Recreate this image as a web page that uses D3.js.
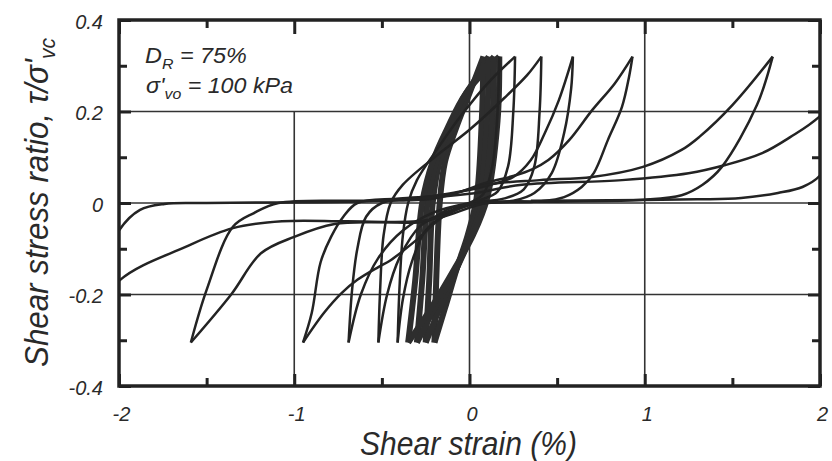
<!DOCTYPE html>
<html>
<head>
<meta charset="utf-8">
<script src="https://cdn.jsdelivr.net/npm/d3@7"></script>
<style>
  body { margin: 0; background: #fff; }
  text { font-family: "Liberation Sans", Arial, sans-serif; font-style: italic; fill: #2a2a2a; }
</style>
</head>
<body>
<svg id="svg"></svg>
<script>
const W = 832, H = 461;

// axis ticks
const xTicks = [-2, -1, 0, 1, 2];
const yTicks = [-0.4, -0.2, 0, 0.2, 0.4];
const xMinor = [-1.5, -0.5, 0.5, 1.5];
const yMinor = [-0.3, -0.1, 0.1, 0.3];
const xGrid = [-1, 0, 1];
const yGrid = [-0.2, 0, 0.2];

// early cycles (dense band), each loop = [up branch, down branch], [strain %, tau/sigma'vc]
const bandLoops = [
  [[-0.2,-0.305],[-0.19,-0.17],[-0.17,0.0],[-0.14,0.09],[-0.08,0.16],[0.0,0.24],[0.08,0.32]],
  [[0.08,0.32],[0.07,0.18],[0.04,0.01],[-0.01,-0.07],[-0.07,-0.14],[-0.14,-0.23],[-0.2,-0.305]],
  [[-0.25,-0.305],[-0.23,-0.17],[-0.21,0.0],[-0.17,0.09],[-0.1,0.16],[-0.01,0.24],[0.11,0.32]],
  [[0.11,0.32],[0.1,0.18],[0.06,0.01],[0.0,-0.07],[-0.07,-0.14],[-0.17,-0.23],[-0.25,-0.305]],
  [[-0.3,-0.305],[-0.27,-0.17],[-0.24,0.0],[-0.19,0.09],[-0.12,0.16],[-0.02,0.24],[0.14,0.32]],
  [[0.14,0.32],[0.13,0.18],[0.08,0.01],[0.01,-0.07],[-0.07,-0.14],[-0.2,-0.23],[-0.3,-0.305]],
  [[-0.35,-0.305],[-0.31,-0.17],[-0.27,0.0],[-0.21,0.09],[-0.13,0.16],[-0.02,0.24],[0.17,0.32]],
  [[0.17,0.32],[0.16,0.18],[0.1,0.01],[0.02,-0.07],[-0.08,-0.14],[-0.22,-0.23],[-0.35,-0.305]]
];

// later cycles, half-cycle by half-cycle (peak to peak)
const growthCycles = [
  [[0.17,0.32],[0.16,0.2],[0.13,0.08],[0.08,0.02],[0.0,0.0],[-0.12,-0.02],[-0.25,-0.06],[-0.33,-0.13],[-0.38,-0.21],[-0.41,-0.305]],
  [[-0.41,-0.305],[-0.4,-0.19],[-0.38,-0.07],[-0.35,0.0],[-0.3,0.05],[-0.18,0.12],[-0.05,0.19],[0.1,0.26],[0.26,0.32]],
  [[0.26,0.32],[0.25,0.2],[0.22,0.08],[0.16,0.025],[0.05,0.005],[-0.1,-0.015],[-0.28,-0.05],[-0.4,-0.12],[-0.47,-0.2],[-0.52,-0.305]],
  [[-0.52,-0.305],[-0.51,-0.19],[-0.49,-0.07],[-0.45,0.0],[-0.38,0.04],[-0.2,0.1],[0.0,0.16],[0.2,0.23],[0.33,0.28],[0.41,0.32]],
  [[0.41,0.32],[0.4,0.2],[0.37,0.08],[0.31,0.03],[0.2,0.01],[0.0,0.0],[-0.2,-0.02],[-0.38,-0.06],[-0.52,-0.12],[-0.62,-0.2],[-0.69,-0.305]],
  [[-0.69,-0.305],[-0.67,-0.19],[-0.64,-0.1],[-0.59,-0.03],[-0.5,0.0],[-0.3,0.01],[-0.05,0.025],[0.12,0.04],[0.25,0.057],[0.35,0.094],[0.43,0.153],[0.51,0.225],[0.59,0.32]],
  [[0.59,0.32],[0.58,0.25],[0.54,0.153],[0.47,0.066],[0.37,0.022],[0.25,0.005],[0.05,0.0],[-0.15,-0.03],[-0.3,-0.08],[-0.45,-0.125],[-0.52,-0.14],[-0.64,-0.168],[-0.73,-0.197],[-0.83,-0.24],[-0.95,-0.305]],
  [[-0.95,-0.305],[-0.9,-0.24],[-0.85,-0.13],[-0.79,-0.074],[-0.72,-0.03],[-0.64,0.0],[-0.4,0.01],[-0.1,0.02],[0.1,0.045],[0.26,0.06],[0.36,0.074],[0.45,0.094],[0.57,0.138],[0.7,0.203],[0.83,0.262],[0.93,0.32]],
  [[0.93,0.32],[0.91,0.275],[0.87,0.21],[0.79,0.138],[0.71,0.066],[0.64,0.035],[0.54,0.013],[0.41,0.004],[0.1,0.0],[-0.1,-0.01],[-0.25,-0.04],[-0.5,-0.042],[-0.77,-0.046],[-1.0,-0.074],[-1.19,-0.11],[-1.36,-0.2],[-1.59,-0.305]],
  [[-1.59,-0.305],[-1.5,-0.19],[-1.35,-0.052],[-1.23,-0.022],[-1.09,0.0],[-0.6,0.005],[-0.2,0.01],[0.1,0.04],[0.4,0.05],[0.7,0.057],[0.99,0.079],[1.21,0.116],[1.31,0.144],[1.5,0.214],[1.73,0.32]],
  [[1.73,0.32],[1.64,0.214],[1.44,0.079],[1.33,0.04],[1.21,0.017],[0.99,0.007],[0.5,0.003],[0.1,0.0],[-0.15,-0.03],[-0.3,-0.04],[-0.7,-0.04],[-1.07,-0.04],[-1.35,-0.055],[-1.62,-0.096],[-2.0,-0.17],[-2.25,-0.305]],
  [[-2.25,-0.305],[-2.1,-0.15],[-2.0,-0.06],[-1.88,-0.015],[-1.74,-0.002],[-1.5,0.0],[-0.5,0.005],[0.0,0.02],[0.3,0.04],[0.87,0.05],[1.25,0.065],[1.46,0.083],[1.67,0.109],[1.83,0.144],[2.0,0.19],[2.3,0.32]],
  [[2.3,0.32],[2.15,0.17],[2.0,0.06],[1.9,0.035],[1.76,0.022],[1.55,0.011],[1.3,0.008],[0.8,0.006],[0.35,0.005]]
];

const svg = d3.select("#svg").attr("width", W).attr("height", H);

const x = d3.scaleLinear().domain([-2, 2]).range([119, 820]);
const y = d3.scaleLinear().domain([-0.4, 0.4]).range([386, 20]);

// clip
svg.append("clipPath").attr("id", "plot")
  .append("rect")
  .attr("x", x(-2)).attr("y", y(0.4))
  .attr("width", x(2) - x(-2)).attr("height", y(-0.4) - y(0.4));

// grid lines
svg.append("g").selectAll("line").data(xGrid).join("line")
  .attr("x1", d => x(d)).attr("x2", d => x(d))
  .attr("y1", d => d === -1 ? y(0.2) : y(0.4)).attr("y2", y(-0.4))
  .attr("stroke", "#333").attr("stroke-width", 1.6);
svg.append("g").selectAll("line").data(yGrid).join("line")
  .attr("x1", x(-2)).attr("x2", x(2))
  .attr("y1", d => y(d)).attr("y2", d => y(d))
  .attr("stroke", "#333").attr("stroke-width", 1.6);

// curves
const line = d3.line()
  .x(d => x(d[0])).y(d => y(d[1]))
  .curve(d3.curveCatmullRom.alpha(0.5));

const curves = svg.append("g").attr("clip-path", "url(#plot)");
curves.selectAll("path.band").data(bandLoops).join("path")
  .attr("class", "band")
  .attr("d", line)
  .attr("fill", "none")
  .attr("stroke", "#2e2e2e")
  .attr("stroke-width", 6)
  .attr("stroke-linejoin", "round");
curves.selectAll("path.cyc").data(growthCycles).join("path")
  .attr("class", "cyc")
  .attr("d", line)
  .attr("fill", "none")
  .attr("stroke", "#232323")
  .attr("stroke-width", 2.5)
  .attr("stroke-linejoin", "round");

// axes with inward ticks on all sides
function styleAxis(g, w) {
  g.select(".domain").remove();
  g.selectAll(".tick line").attr("stroke", "#222").attr("stroke-width", w);
}
const fmtY = d => d === 0 ? "0" : d.toFixed(1);

svg.append("g").attr("transform", `translate(0,${y(-0.4)})`)
  .call(d3.axisBottom(x).tickValues(xTicks).tickSize(-12).tickPadding(21).tickFormat(d => String(d)))
  .call(g => styleAxis(g, 3))
  .call(g => g.selectAll("text").attr("font-size", 20).attr("dx", 2)
    .style("font-family", '"Liberation Sans", Arial, sans-serif').attr("fill", "#2a2a2a"));
svg.append("g").attr("transform", `translate(0,${y(-0.4)})`)
  .call(d3.axisBottom(x).tickValues(xMinor).tickSize(-8).tickFormat(""))
  .call(g => styleAxis(g, 3));
svg.append("g").attr("transform", `translate(0,${y(0.4)})`)
  .call(d3.axisTop(x).tickValues(xTicks).tickSize(-14).tickFormat(""))
  .call(g => styleAxis(g, 3));
svg.append("g").attr("transform", `translate(0,${y(0.4)})`)
  .call(d3.axisTop(x).tickValues(xMinor).tickSize(-8).tickFormat(""))
  .call(g => styleAxis(g, 3));

svg.append("g").attr("transform", `translate(${x(-2)},0)`)
  .call(d3.axisLeft(y).tickValues(yTicks).tickSize(-12).tickPadding(16).tickFormat(fmtY))
  .call(g => styleAxis(g, 3))
  .call(g => g.selectAll("text").attr("font-size", 20).attr("dy", "0.42em")
    .style("font-family", '"Liberation Sans", Arial, sans-serif').attr("fill", "#2a2a2a"));
svg.append("g").attr("transform", `translate(${x(-2)},0)`)
  .call(d3.axisLeft(y).tickValues(yMinor).tickSize(-8).tickFormat(""))
  .call(g => styleAxis(g, 3));
svg.append("g").attr("transform", `translate(${x(2)},0)`)
  .call(d3.axisRight(y).tickValues(yTicks).tickSize(-12).tickFormat(""))
  .call(g => styleAxis(g, 3));
svg.append("g").attr("transform", `translate(${x(2)},0)`)
  .call(d3.axisRight(y).tickValues(yMinor).tickSize(-8).tickFormat(""))
  .call(g => styleAxis(g, 3));

// frame
svg.append("rect")
  .attr("x", x(-2)).attr("y", y(0.4))
  .attr("width", x(2) - x(-2)).attr("height", y(-0.4) - y(0.4))
  .attr("fill", "none").attr("stroke", "#222").attr("stroke-width", 3.5);

// stretch a text element along its own direction to a target length
function fit(t, target, tx, ty, rot) {
  const w = t.node().getComputedTextLength();
  const s = target / w;
  t.attr("transform", `translate(${tx},${ty}) rotate(${rot}) scale(${s},1)`);
}

// axis titles
const xt = svg.append("text").attr("font-size", 33).attr("text-anchor", "start").text("Shear strain (%)");
fit(xt, 217, 360, 455, 0);

const yt = svg.append("text").attr("font-size", 33).attr("text-anchor", "start");
yt.append("tspan").text("Shear stress ratio, τ/σ'");
yt.append("tspan").attr("font-size", 22).attr("dy", 7).text("vc");
fit(yt, 329, 48, 367, -90);

// annotation
const a1 = svg.append("text").attr("font-size", 22);
a1.append("tspan").text("D");
a1.append("tspan").attr("font-size", 15).attr("dy", 6).text("R");
a1.append("tspan").attr("dy", -6).text(" = 75%");
fit(a1, 102, 145, 63, 0);

const a2 = svg.append("text").attr("font-size", 22);
a2.append("tspan").text("σ'");
a2.append("tspan").attr("font-size", 15).attr("dy", 6).text("vo");
a2.append("tspan").attr("dy", -6).text(" = 100 kPa");
fit(a2, 147, 146, 93, 0);
</script>
</body>
</html>
